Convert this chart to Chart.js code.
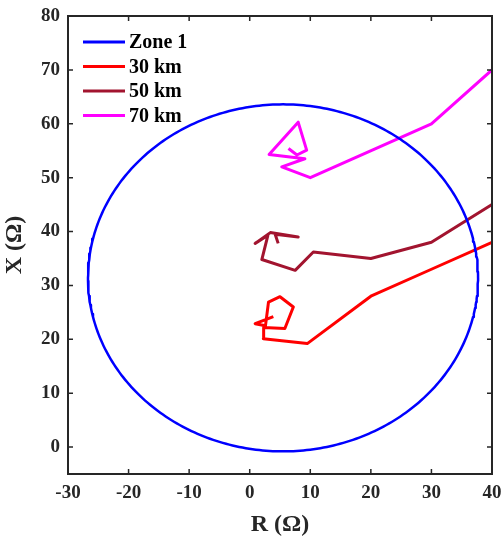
<!DOCTYPE html>
<html>
<head>
<meta charset="utf-8">
<script src="https://cdn.jsdelivr.net/npm/chart.js@4/dist/chart.umd.min.js"></script>
<style>
  html, body { margin: 0; padding: 0; background: #fff; }
</style>
</head>
<body>
<canvas id="myChart" width="504" height="539"></canvas>
<script>
// Zone 1 mho circle
const zoneCenter = [5.5, 31.4];
const zoneRadius = 32.2;

// impedance trajectories, R and X in ohms
const r30 = [40, 30, 20, 9.5, 2.25, 2.3, 5.8, 7.2, 5.0, 3.1, 2.6, 0.9, 3.9];
const x30 = [38, 33, 28, 19.2, 20.1, 22.2, 22.0, 26.0, 27.9, 26.9, 22.5, 22.9, 24.2];

const r50 = [40, 30, 20, 10.5, 7.5, 2.0, 3.0, 0.9, 3.4, 8.0, 4.2, 4.7];
const x50 = [45, 38, 35, 36.2, 32.8, 34.8, 39.3, 37.8, 39.8, 39.0, 39.5, 37.8];

const r70 = [40, 30, 10, 5.3, 9.1, 3.2, 8.0, 9.4, 7.8, 6.4];
const x70 = [70, 60, 50, 52.0, 53.5, 54.3, 60.3, 55.1, 54.2, 55.4];

const xTicks = [-30, -20, -10, 0, 10, 20, 30, 40];
const yTicks = [0, 10, 20, 30, 40, 50, 60, 70, 80];

function pts(rs, xs) {
  return rs.map((r, i) => ({ x: r, y: xs[i] }));
}

let circle = [];
for (let a = 0; a <= 360; a += 1) {
  let t = a * Math.PI / 180;
  circle.push({ x: zoneCenter[0] + zoneRadius * Math.cos(t), y: zoneCenter[1] + zoneRadius * Math.sin(t) });
}

const font = "'Liberation Serif', 'Times New Roman', serif";
const axisColor = '#262626';

// box around the plot with inward ticks on all four sides
const frame = {
  id: 'frame',
  afterDraw(chart) {
    const c = chart.ctx, a = chart.chartArea;
    const sx = chart.scales.x, sy = chart.scales.y;
    c.save();
    c.strokeStyle = axisColor;
    c.lineWidth = 2;
    c.strokeRect(a.left, a.top, a.right - a.left, a.bottom - a.top);
    c.lineWidth = 1.5;
    c.beginPath();
    xTicks.forEach(v => {
      let p = sx.getPixelForValue(v);
      c.moveTo(p, a.bottom); c.lineTo(p, a.bottom - 5);
      c.moveTo(p, a.top); c.lineTo(p, a.top + 5);
    });
    yTicks.forEach(v => {
      let p = sy.getPixelForValue(v);
      c.moveTo(a.left, p); c.lineTo(a.left + 5, p);
      c.moveTo(a.right, p); c.lineTo(a.right - 5, p);
    });
    c.stroke();

    // legend
    c.font = 'bold 20px ' + font;
    c.textBaseline = 'middle';
    chart.data.datasets.forEach((ds, i) => {
      let y = a.top + 26 + i * 24.5;
      c.strokeStyle = ds.borderColor;
      c.lineWidth = 3;
      c.beginPath();
      c.moveTo(a.left + 15, y); c.lineTo(a.left + 57, y);
      c.stroke();
      c.fillStyle = '#000';
      c.fillText(ds.label, a.left + 61, y + 1);
    });
    c.restore();
  }
};

new Chart(document.getElementById('myChart'), {
  type: 'scatter',
  data: {
    datasets: [
      { label: 'Zone 1', data: circle, borderColor: '#0000ff', borderWidth: 2.5 },
      { label: '30 km', data: pts(r30, x30), borderColor: '#ff0000', borderWidth: 3 },
      { label: '50 km', data: pts(r50, x50), borderColor: '#a2142f', borderWidth: 3 },
      { label: '70 km', data: pts(r70, x70), borderColor: '#ff00ff', borderWidth: 3 }
    ]
  },
  options: {
    responsive: false,
    animation: false,
    showLine: true,
    elements: { point: { radius: 0 }, line: { tension: 0, borderJoinStyle: 'round' } },
    layout: { padding: { top: 16, right: 12, left: 0, bottom: 0 } },
    plugins: { legend: { display: false }, tooltip: { enabled: false } },
    scales: {
      x: {
        min: -30, max: 40,
        afterFit: s => { s.height = 65; s.paddingLeft = 0; s.paddingRight = 0; },
        afterBuildTicks: s => { s.ticks = xTicks.map(v => ({ value: v })); },
        grid: { display: false, drawTicks: false },
        border: { display: false },
        ticks: { color: axisColor, padding: 8, font: { family: font, size: 19, weight: 'bold' } },
        title: { display: true, text: 'R (Ω)', color: axisColor, padding: 0, font: { family: font, size: 24, weight: 'bold' } }
      },
      y: {
        min: -5, max: 80,
        afterFit: s => { s.width = 68; s.paddingTop = 0; s.paddingBottom = 0; },
        afterBuildTicks: s => { s.ticks = yTicks.map(v => ({ value: v })); },
        grid: { display: false, drawTicks: false },
        border: { display: false },
        ticks: { color: axisColor, padding: 8, font: { family: font, size: 19, weight: 'bold' } },
        title: { display: true, text: 'X (Ω)', color: axisColor, padding: 0, font: { family: font, size: 24, weight: 'bold' } }
      }
    }
  },
  plugins: [frame]
});
</script>
</body>
</html>
